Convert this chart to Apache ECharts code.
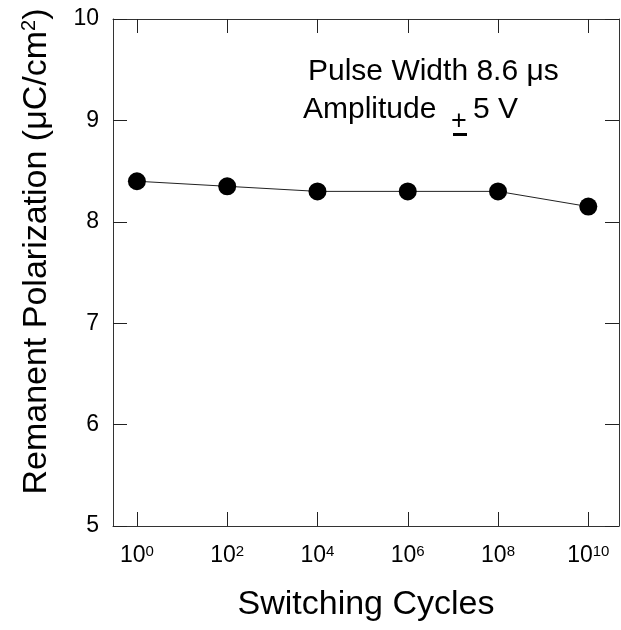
<!DOCTYPE html>
<html>
<head>
<meta charset="utf-8">
<script src="https://cdn.jsdelivr.net/npm/echarts@6/dist/echarts.min.js"></script>
<style>
  html, body { margin: 0; padding: 0; background: #fff; }
  #chart { width: 621px; height: 630px; }
</style>
</head>
<body>
<div id="chart"></div>
<script>
// switching cycles as powers of ten (exponents)
const cycleExponents = [0, 2, 4, 6, 8, 10]
// remanent polarization, uC/cm^2
const polarization = [8.4, 8.35, 8.3, 8.3, 8.3, 8.15]
const xTickExponents = [0, 2, 4, 6, 8, 10]
const yTicks = [5, 6, 7, 8, 9, 10]

const FONT = 'Liberation Sans, Arial, sans-serif'

const chart = echarts.init(document.getElementById('chart'), null, { renderer: 'canvas' })

// frame axes share the same look
const axisLine = { show: true, onZero: false, lineStyle: { color: '#333', width: 1 } }
const axisTick = { show: true, inside: true, length: 14, lineStyle: { color: '#222', width: 1 } }

const xRange = { type: 'value', min: -0.53, max: 10.68 }
const yRange = { type: 'value', min: yTicks[0], max: yTicks[yTicks.length - 1], interval: 1 }

const option = {
  animation: false,
  backgroundColor: '#fff',
  grid: { left: 113, right: 2, top: 19, bottom: 104, containLabel: false },
  xAxis: [
    {
      ...xRange,
      position: 'bottom',
      name: 'Switching Cycles',
      nameLocation: 'middle',
      nameGap: 62,
      nameTextStyle: { fontFamily: FONT, fontSize: 34, color: '#000' },
      axisLine,
      axisTick: { ...axisTick, customValues: xTickExponents },
      splitLine: { show: false },
      axisLabel: {
        customValues: xTickExponents,
        margin: 18,
        formatter: (v) => `{b|10}{s|${v}}`,
        rich: {
          b: { fontFamily: FONT, fontSize: 23, lineHeight: 24, color: '#000' },
          s: { fontFamily: FONT, fontSize: 15, lineHeight: 15, verticalAlign: 'top', color: '#000' }
        }
      }
    },
    {
      ...xRange,
      position: 'top',
      axisLine,
      axisTick: { ...axisTick, customValues: xTickExponents },
      axisLabel: { show: false },
      splitLine: { show: false }
    }
  ],
  yAxis: [
    {
      ...yRange,
      position: 'left',
      name: '{a|Remanent Polarization (μC/cm}{s|2}{a|)}',
      nameLocation: 'middle',
      nameGap: 58,
      nameRotate: 90,
      nameTextStyle: {
        padding: [0, 0, 0, 42],
        rich: {
          a: { fontFamily: FONT, fontSize: 34, lineHeight: 36, color: '#000' },
          s: { fontFamily: FONT, fontSize: 20, lineHeight: 20, verticalAlign: 'top', color: '#000' }
        }
      },
      axisLine,
      axisTick,
      splitLine: { show: false },
      axisLabel: { margin: 14, fontFamily: FONT, fontSize: 23, color: '#000' }
    },
    {
      ...yRange,
      position: 'right',
      axisLine,
      axisTick,
      axisLabel: { show: false },
      splitLine: { show: false }
    }
  ],
  series: [
    {
      type: 'line',
      xAxisIndex: 0,
      yAxisIndex: 0,
      data: cycleExponents.map((e, i) => [e, polarization[i]]),
      symbol: 'circle',
      symbolSize: 18,
      itemStyle: { color: '#000' },
      lineStyle: { color: '#222', width: 1 }
    }
  ],
  graphic: [
    {
      type: 'text',
      x: 308,
      y: 72,
      style: { text: 'Pulse Width 8.6 μs', font: `30px ${FONT}`, fill: '#000', verticalAlign: 'middle' }
    },
    {
      type: 'text',
      x: 303,
      y: 110,
      style: { text: 'Amplitude', font: `30px ${FONT}`, fill: '#000', verticalAlign: 'middle' }
    },
    {
      type: 'text',
      x: 451,
      y: 122,
      style: { text: '+', font: `27px ${FONT}`, fill: '#000', verticalAlign: 'middle' }
    },
    {
      type: 'rect',
      shape: { x: 453, y: 133, width: 14, height: 3 },
      style: { fill: '#000' }
    },
    {
      type: 'text',
      x: 473,
      y: 110,
      style: { text: '5 V', font: `30px ${FONT}`, fill: '#000', verticalAlign: 'middle' }
    }
  ]
}

chart.setOption(option)
</script>
</body>
</html>
